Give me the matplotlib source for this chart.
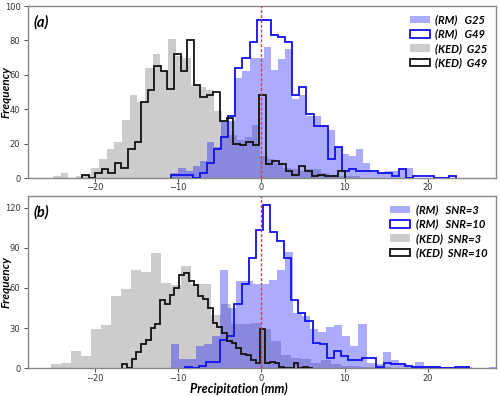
import numpy as np
import matplotlib
matplotlib.use('Agg')
import matplotlib.pyplot as plt

# ---------------- data: panel (a) ----------------
rm_g25_a = [3, 6, 4, 7, 10, 21, 18, 33, 33, 58, 62, 70, 70, 76, 63, 69, 75, 46, 48, 36,
            36, 31, 28, 18, 14, 13, 17, 9, 4, 3, 4, 4, 6, 6, 0, 0, 0, 0, 0, 0]
rm_g49_a = [2, 2, 2, 0, 3, 9, 17, 24, 36, 64, 70, 79, 92, 92, 83, 82, 79, 48, 53, 37,
            30, 30, 11, 18, 4, 5, 4, 4, 4, 3, 3, 1, 5, 0, 1, 1, 1, 0, 0, 1]
ked_g25_a = [1, 3, 0, 1, 2, 6, 11, 17, 21, 34, 48, 44, 64, 72, 62, 81, 71, 70, 54, 53,
             51, 39, 33, 25, 22, 24, 31, 13, 11, 9, 6, 5, 4, 5, 5, 3, 2, 1, 1, 1]
ked_g49_a = [2, 0, 3, 5, 3, 9, 6, 17, 21, 44, 51, 65, 62, 52, 72, 62, 80, 54, 47, 48,
             50, 33, 35, 20, 19, 21, 19, 48, 8, 10, 8, 4, 2, 7, 4, 1, 2, 1, 1, 4]
rm_range_a = (-10.8, 23.32)
ked_g25_range_a = (-25.0, 11.8)
ked_g49_range_a = (-21.52, 10.0)

# ---------------- data: panel (b) ----------------
rm_snr3_b = [18, 7, 7, 17, 18, 24, 73, 45, 65, 65, 63, 63, 66, 73, 87, 41, 39, 29, 27, 31,
             32, 24, 17, 33, 4, 3, 12, 6, 3, 2, 5, 2, 2, 1, 1, 1, 1, 0, 0, 1]
rm_snr10_b = [1, 0, 2, 5, 5, 21, 24, 48, 63, 82, 103, 122, 102, 95, 82, 51, 41, 35, 19, 18,
              8, 13, 9, 6, 6, 8, 8, 1, 4, 3, 3, 2, 1, 1, 1, 1, 0, 0, 1, 1]
ked_snr3_b = [3, 4, 13, 9, 29, 32, 54, 59, 73, 72, 86, 64, 62, 76, 63, 63, 40, 48, 33, 33,
              34, 29, 20, 10, 8, 7, 4, 6, 3, 2, 2, 1, 1, 1, 0, 0, 1, 0, 0, 1]
ked_snr10_b = [3, 0, 7, 12, 18, 21, 30, 33, 51, 48, 55, 60, 70, 71, 65, 62, 54, 52, 45, 34,
               31, 26, 20, 19, 15, 11, 10, 6, 4, 29, 4, 5, 4, 1, 0, 0, 4, 0, 1, 0]
rm_snr3_range_b = (-10.8, 28.24)
rm_snr10_range_b = (-9.2, 24.88)
ked_snr3_range_b = (-25.2, 22.8)
ked_snr10_range_b = (-16.72, 6.16)

labels_a = ['(RM)   G25', '(RM)   G49', '(KED)  G25', '(KED)  G49']
labels_b = ['(RM)   SNR=3', '(RM)   SNR=10', '(KED)  SNR=3', '(KED)  SNR=10']
xticks = [-20, -10, 0, 10, 20]
yticks_a = [0, 20, 40, 60, 80, 100]
yticks_b = [0, 30, 60, 90, 120]

FONT = 'Lato'


def edges_of(counts, rng):
    return np.linspace(rng[0], rng[1], len(counts) + 1)


def hist_from_counts(ax, counts, rng, **kw):
    e = edges_of(counts, rng)
    centers = 0.5 * (e[:-1] + e[1:])
    return ax.hist(centers, bins=e, weights=counts, **kw)[2][0]


def panel(ax, rm_fill, rm_fill_rng, rm_line, rm_line_rng,
          ked_fill, ked_fill_rng, ked_line, ked_line_rng, labels, yticks, ylim, tag):
    h_kf = hist_from_counts(ax, ked_fill, ked_fill_rng, histtype='stepfilled',
                            color='#808080', alpha=0.4, zorder=1, linewidth=0)
    h_rf = hist_from_counts(ax, rm_fill, rm_fill_rng, histtype='stepfilled',
                            color='#0000ff', alpha=0.33, zorder=2, linewidth=0)
    h_rl = hist_from_counts(ax, rm_line, rm_line_rng, histtype='step',
                            color='#1010ee', linewidth=1.3, zorder=3)
    h_kl = hist_from_counts(ax, ked_line, ked_line_rng, histtype='step',
                            color='#111111', linewidth=1.3, zorder=4)
    ax.axvline(0, color='#c04848', linestyle=(0, (2.2, 1.3)), linewidth=1.0, zorder=5)
    ax.set_xlim(-28.0, 28.15)
    ax.set_ylim(*ylim)
    ax.set_xticks(xticks)
    ax.set_yticks(yticks)
    ax.tick_params(labelsize=6, colors='#333333', length=3, width=0.6)
    ax.tick_params(axis='x', pad=0.8)
    ax.tick_params(axis='y', pad=2.5)
    for s in ax.spines.values():
        s.set_color('#888888')
        s.set_linewidth(1.0)
    ax.set_ylabel('Frequency', fontfamily=FONT, fontweight='bold', fontstyle='italic',
                  fontsize=8.5)
    ax.yaxis.set_label_coords(-0.036, 0.5)
    ax.text(0.012, 0.88, tag, transform=ax.transAxes, fontfamily=FONT,
            fontweight='bold', fontstyle='italic', fontsize=10.5)
    leg = ax.legend([h_rf, h_rl, h_kf, h_kl], labels, loc='upper right', frameon=False,
                    prop={'family': FONT, 'weight': 'bold', 'style': 'italic', 'size': 8},
                    labelspacing=0.3, handlelength=1.8, handleheight=0.7,
                    handletextpad=0.5, borderaxespad=0.35)
    return leg


fig = plt.figure(figsize=(5.0, 3.96), dpi=100)
ax1 = fig.add_axes([0.056, 0.5505, 0.936, 0.4343])
ax2 = fig.add_axes([0.056, 0.070, 0.936, 0.435])

panel(ax1, rm_g25_a, rm_range_a, rm_g49_a, rm_range_a,
      ked_g25_a, ked_g25_range_a, ked_g49_a, ked_g49_range_a,
      labels_a, yticks_a, (0, 100), '(a)')
panel(ax2, rm_snr3_b, rm_snr3_range_b, rm_snr10_b, rm_snr10_range_b,
      ked_snr3_b, ked_snr3_range_b, ked_snr10_b, ked_snr10_range_b,
      labels_b, yticks_b, (0, 128.6), '(b)')
ax2.set_xlabel('Precipitation (mm)', fontfamily=FONT, fontweight='bold',
               fontstyle='italic', fontsize=9)
ax2.xaxis.set_label_coords(0.45, -0.082)

fig.savefig('out.png', dpi=100)
